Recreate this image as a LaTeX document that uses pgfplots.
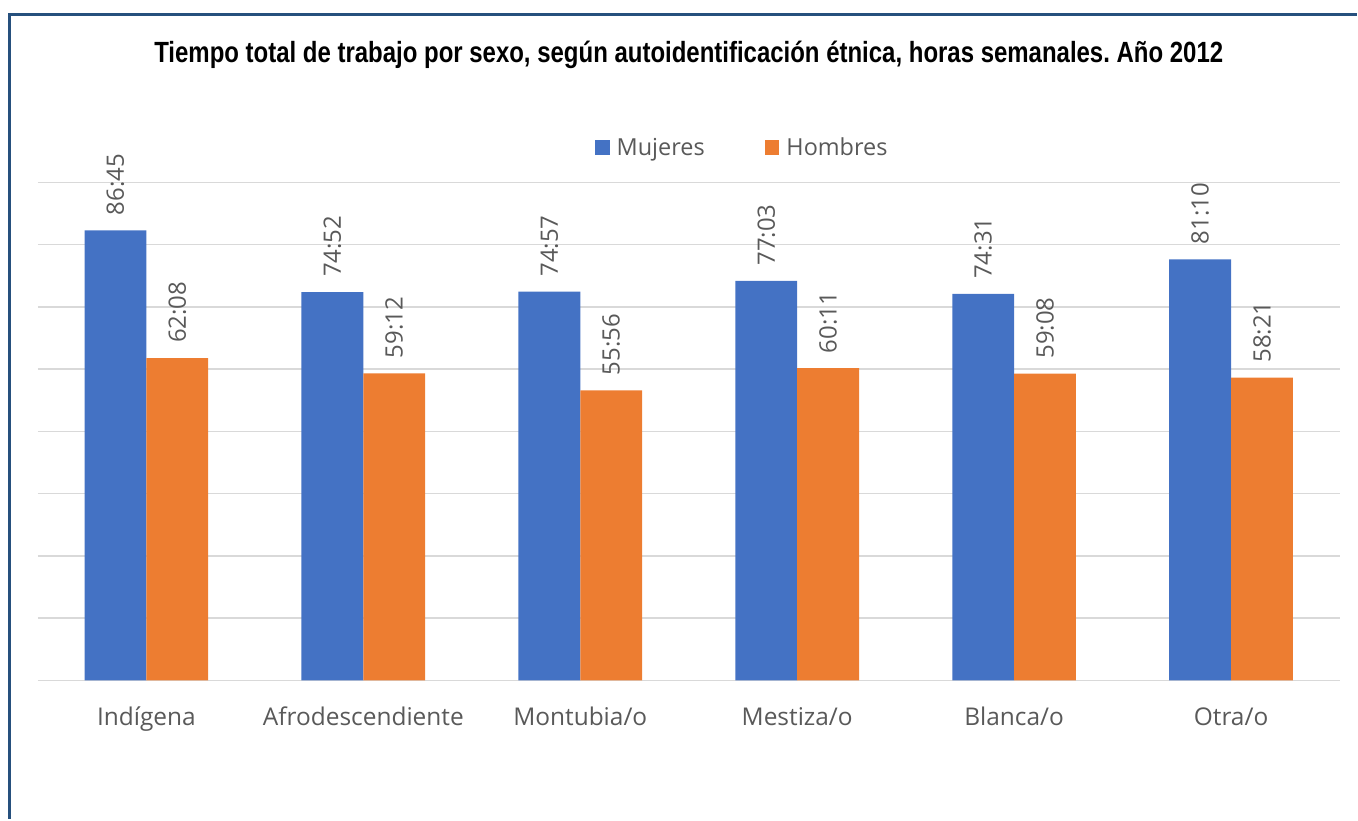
\documentclass[border=0pt]{standalone}
\usepackage{fontspec}
\setmainfont{Open Sans}
\newfontfamily\titlefont[FakeStretch=0.82]{Liberation Sans}
\usepackage{pgfplots}
\usepackage{pgfplotstable}
\pgfplotsset{compat=1.18}
\definecolor{mblue}{HTML}{4472C4}
\definecolor{horange}{HTML}{ED7D31}
\definecolor{txtgray}{HTML}{595959}
\definecolor{gridgray}{HTML}{D9D9D9}
\definecolor{frameblue}{HTML}{26507D}

\pgfplotstableread{
x m ml h hl
0 86.75 86:45 62.1333 62:08
1 74.8667 74:52 59.2 59:12
2 74.95 74:57 55.9333 55:56
3 77.05 77:03 60.1833 60:11
4 74.5167 74:31 59.1333 59:08
5 81.1667 81:10 58.35 58:21
}\datatable

\begin{document}
\frenchspacing
\begin{tikzpicture}[x=1pt,y=1pt]
\path (0,0) rectangle (1358,819);
\draw[frameblue, line width=3pt] (9.5,-2) -- (9.5,804.5) -- (1360,804.5);
\node[anchor=base, inner sep=0pt, font=\titlefont\bfseries\fontsize{29.3}{33}\selectfont] at (690.5,756) {Tiempo total de trabajo por sexo, según autoidentificación étnica, horas semanales. Año 2012};
\begin{axis}[
  at={(38pt,137pt)}, anchor=south west,
  scale only axis, width=1305pt, height=499pt,
  xmin=-0.5, xmax=5.5, ymin=0, ymax=96,
  ybar=0pt, bar width=62pt,
  xtick=data,
  xticklabels={Indígena,Afrodescendiente,Montubia/o,Mestiza/o,Blanca/o,Otra/o},
  ytick={0,12,...,96}, yticklabels={},
  ymajorgrids, grid style={gridgray, line width=1.5pt},
  axis line style={draw=none},
  major tick length=0pt,
  clip=false,
  xticklabel style={anchor=base, yshift=-45pt, font=\fontsize{24.5}{28}\selectfont, text=txtgray},
  legend style={draw=none, at={(0.541,1.07)}, anchor=center, legend columns=2,
    font=\fontsize{23.5}{27}\selectfont, text=txtgray,
    /tikz/every even column/.append style={column sep=58pt}},
  nodes near coords,
  point meta=explicit symbolic,
  every node near coord/.append style={rotate=90, anchor=west, font=\fontsize{24}{28}\selectfont, text=txtgray, inner xsep=15pt, inner ysep=0pt},
]
\addplot[fill=mblue, draw=none, legend image code/.code={\fill[mblue] (0pt,-7.5pt) rectangle (15pt,7.5pt); \path (20pt,0pt);}] table[x=x, y=m, meta=ml] {\datatable};
\addplot[fill=horange, draw=none, legend image code/.code={\fill[horange] (0pt,-7.5pt) rectangle (15pt,7.5pt); \path (20pt,0pt);}] table[x=x, y=h, meta=hl] {\datatable};
\legend{Mujeres, Hombres}
\end{axis}
\end{tikzpicture}
\end{document}
